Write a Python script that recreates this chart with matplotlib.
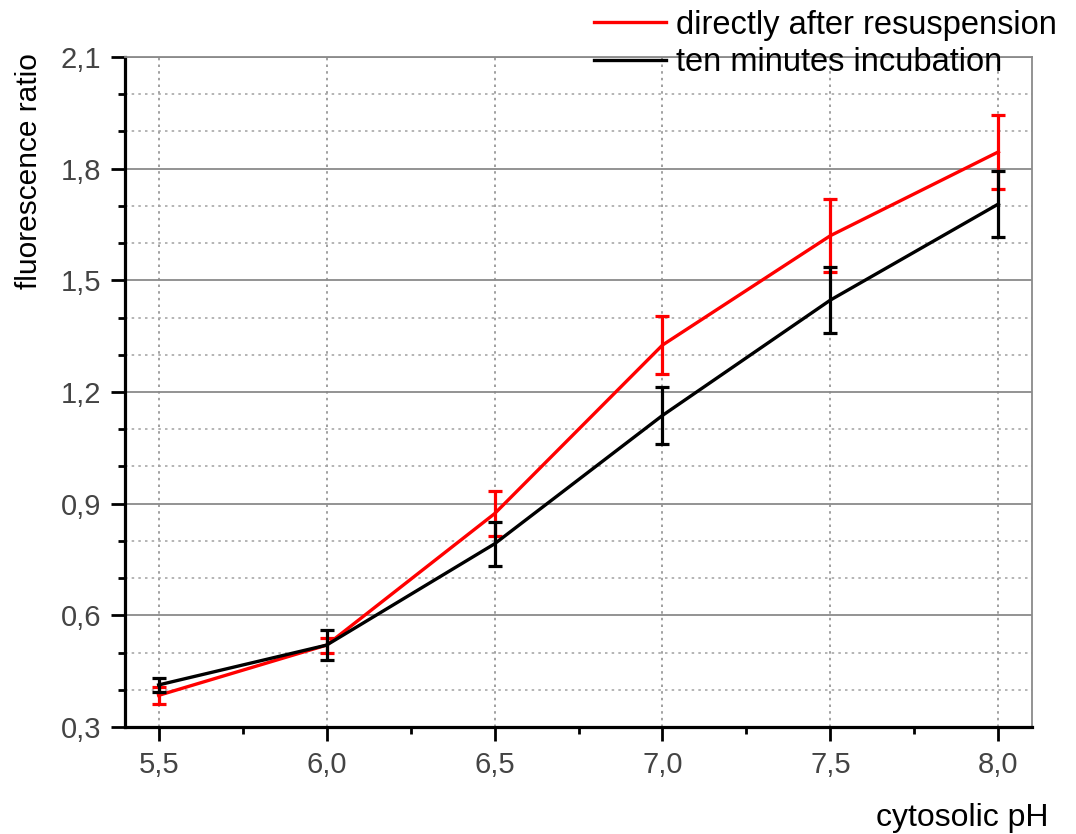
import matplotlib.pyplot as plt
from matplotlib.lines import Line2D
from matplotlib.ticker import MultipleLocator, FixedLocator

# pH values and fluorescence ratios (mean +/- error)
ph = [5.5, 6.0, 6.5, 7.0, 7.5, 8.0]
ratio_direct = [0.385, 0.52, 0.873, 1.326, 1.62, 1.845]
err_direct = [0.022, 0.02, 0.06, 0.078, 0.098, 0.10]
ratio_10min = [0.413, 0.52, 0.792, 1.137, 1.447, 1.705]
err_10min = [0.019, 0.04, 0.06, 0.077, 0.089, 0.088]

x_ticks = [5.5, 6.0, 6.5, 7.0, 7.5, 8.0]
x_labels = ['5,5', '6,0', '6,5', '7,0', '7,5', '8,0']
y_ticks = [0.3, 0.6, 0.9, 1.2, 1.5, 1.8, 2.1]
y_labels = ['0,3', '0,6', '0,9', '1,2', '1,5', '1,8', '2,1']

plt.rcParams['font.family'] = ['Liberation Sans', 'DejaVu Sans']

fig = plt.figure(figsize=(10.76, 8.34), dpi=100)
ax = fig.add_axes([0.1162, 0.1283, 0.9591 - 0.1162, 0.9317 - 0.1283])

ax.errorbar(ph, ratio_direct, yerr=err_direct, color='#ff0000', lw=2.4,
            elinewidth=2.3, capsize=5, capthick=2.3, zorder=3)
ax.errorbar(ph, ratio_10min, yerr=err_10min, color='black', lw=2.4,
            elinewidth=2.3, capsize=5, capthick=2.3, zorder=4)

ax.set_xlim(5.4, 8.1)
ax.set_ylim(0.3, 2.1)

ax.xaxis.set_major_locator(FixedLocator(x_ticks))
ax.set_xticklabels(x_labels)
ax.xaxis.set_minor_locator(MultipleLocator(0.25))
ax.yaxis.set_major_locator(FixedLocator(y_ticks))
ax.set_yticklabels(y_labels)
ax.yaxis.set_minor_locator(MultipleLocator(0.1))

ax.tick_params(which='major', direction='out', length=10, width=2, pad=7,
               labelsize=21, labelcolor='#444444')
ax.tick_params(which='minor', direction='out', length=5, width=2)
ax.tick_params(top=False, right=False)

# grid: solid for major y, dotted for minor y and major x
ax.grid(True, which='major', axis='y', color='#8a8a8a', lw=1.3, ls='-')
ax.grid(True, which='minor', axis='y', color='#a8a8a8', lw=1.2, ls=(0, (1.5, 2.5)))
ax.grid(True, which='major', axis='x', color='#909090', lw=1.2, ls=(0, (1.5, 2.5)))
ax.set_axisbelow(True)

for side in ['left', 'bottom']:
    ax.spines[side].set_linewidth(2.3)
    ax.spines[side].set_color('black')
for side in ['top', 'right']:
    ax.spines[side].set_linewidth(1.3)
    ax.spines[side].set_color('#8a8a8a')

fig.text(0.027, 0.795, 'fluorescence ratio', rotation=90, ha='center', va='center',
         fontsize=21.5, color='black')
fig.text(0.894, 0.019, 'cytosolic pH', ha='center', va='center', fontsize=23, color='black')

handles = [Line2D([], [], color='#ff0000', lw=2.4),
           Line2D([], [], color='black', lw=2.4)]
fig.legend(handles, ['directly after resuspension', 'ten minutes incubation'],
           loc='upper right', bbox_to_anchor=(1.0, 1.012), frameon=False, fontsize=23.5,
           handlelength=2.2, handletextpad=0.3, labelspacing=0.2, borderaxespad=0.2)

fig.savefig('out.png', dpi=100)
